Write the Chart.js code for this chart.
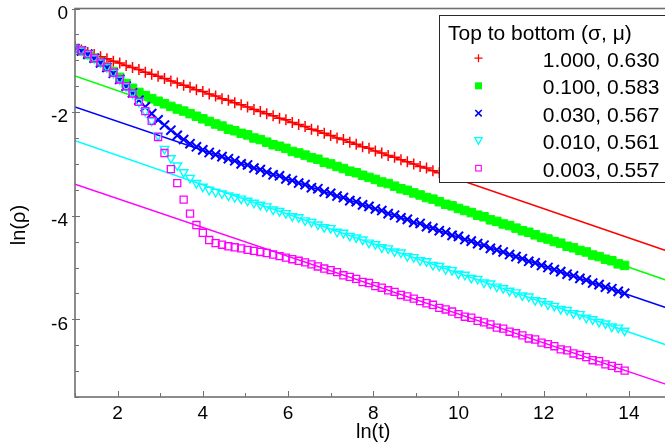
<!DOCTYPE html>
<html>
<head>
<meta charset="utf-8">
<title>ln(ρ) versus ln(t)</title>
<script src="https://cdn.jsdelivr.net/npm/chart.js@4.4.1/dist/chart.umd.min.js"></script>
<style>
  html, body { margin: 0; padding: 0; background: #fff; overflow: hidden; }
  canvas { display: block; }
</style>
</head>
<body>
<canvas id="decay" width="680" height="445"></canvas>
<script>
// Sampling times, as ln(t)
const lnT = [
  1.00, 1.15, 1.30, 1.45, 1.60, 1.75, 1.90, 2.05, 2.20, 2.35,
  2.50, 2.65, 2.80, 2.95, 3.10, 3.25, 3.40, 3.55, 3.70, 3.85,
  4.00, 4.15, 4.30, 4.45, 4.60, 4.75, 4.90, 5.05, 5.20, 5.35,
  5.50, 5.65, 5.80, 5.95, 6.10, 6.25, 6.40, 6.55, 6.70, 6.85,
  7.00, 7.15, 7.30, 7.45, 7.60, 7.75, 7.90, 8.05, 8.20, 8.35,
  8.50, 8.65, 8.80, 8.95, 9.10, 9.25, 9.40, 9.55, 9.70, 9.85,
  10.00, 10.15, 10.30, 10.45, 10.60, 10.75, 10.90, 11.05, 11.20, 11.35,
  11.50, 11.65, 11.80, 11.95, 12.10, 12.25, 12.40, 12.55, 12.70, 12.85,
  13.00, 13.15, 13.30, 13.45, 13.60, 13.75, 13.90
];

// ln(rho) for each noise level; the sigma = 1.000 run is shorter
const lnRhoS1000 = [
  -0.74, -0.80, -0.85, -0.89, -0.93, -0.97, -1.02, -1.05, -1.10, -1.14,
  -1.18, -1.23, -1.27, -1.31, -1.35, -1.40, -1.44, -1.48, -1.52, -1.57,
  -1.60, -1.65, -1.69, -1.74, -1.77, -1.82, -1.86, -1.90, -1.95, -1.99,
  -2.03, -2.07, -2.12, -2.15, -2.20, -2.24, -2.28, -2.33, -2.36, -2.41,
  -2.45, -2.50, -2.53, -2.58, -2.62, -2.67, -2.70, -2.75, -2.79, -2.84,
  -2.87, -2.92, -2.96, -3.00, -3.05, -3.08, -3.13, -3.17, -3.22, -3.25
];
const lnRhoS0100 = [
  -0.77, -0.82, -0.89, -0.96, -1.04, -1.13, -1.22, -1.33, -1.45, -1.54,
  -1.62, -1.68, -1.74, -1.79, -1.84, -1.89, -1.94, -1.98, -2.03, -2.08,
  -2.13, -2.18, -2.23, -2.27, -2.33, -2.36, -2.41, -2.44, -2.50, -2.53,
  -2.58, -2.63, -2.66, -2.70, -2.76, -2.79, -2.83, -2.88, -2.91, -2.97,
  -3.00, -3.05, -3.09, -3.14, -3.17, -3.22, -3.26, -3.30, -3.35, -3.38,
  -3.43, -3.48, -3.51, -3.56, -3.60, -3.65, -3.68, -3.73, -3.78, -3.81,
  -3.86, -3.90, -3.94, -3.99, -4.02, -4.08, -4.11, -4.16, -4.19, -4.24,
  -4.29, -4.32, -4.37, -4.42, -4.45, -4.50, -4.53, -4.59, -4.62, -4.67,
  -4.70, -4.76, -4.79, -4.84, -4.87, -4.93, -4.96
];
const lnRhoS0030 = [
  -0.78, -0.82, -0.88, -0.96, -1.05, -1.14, -1.25, -1.37, -1.50, -1.63,
  -1.77, -1.90, -2.03, -2.15, -2.25, -2.35, -2.45, -2.53, -2.61, -2.67,
  -2.73, -2.78, -2.82, -2.86, -2.90, -2.94, -3.00, -3.02, -3.08, -3.11,
  -3.16, -3.21, -3.23, -3.29, -3.32, -3.37, -3.40, -3.46, -3.48, -3.54,
  -3.57, -3.62, -3.65, -3.71, -3.73, -3.79, -3.82, -3.87, -3.90, -3.96,
  -3.99, -4.04, -4.07, -4.13, -4.15, -4.21, -4.24, -4.29, -4.32, -4.38,
  -4.40, -4.46, -4.49, -4.54, -4.57, -4.63, -4.66, -4.70, -4.75, -4.79,
  -4.83, -4.88, -4.91, -4.96, -5.00, -5.04, -5.08, -5.13, -5.16, -5.21,
  -5.24, -5.30, -5.33, -5.38, -5.41, -5.46, -5.50
];
const lnRhoS0010 = [
  -0.77, -0.81, -0.88, -0.96, -1.04, -1.13, -1.24, -1.37, -1.50, -1.64,
  -1.80, -1.98, -2.17, -2.45, -2.71, -2.89, -3.03, -3.16, -3.27, -3.37,
  -3.44, -3.50, -3.54, -3.57, -3.61, -3.64, -3.67, -3.71, -3.75, -3.79,
  -3.82, -3.88, -3.91, -3.95, -4.01, -4.03, -4.09, -4.12, -4.17, -4.22,
  -4.24, -4.31, -4.33, -4.39, -4.42, -4.46, -4.52, -4.55, -4.61, -4.63,
  -4.69, -4.71, -4.78, -4.80, -4.86, -4.88, -4.95, -4.97, -5.03, -5.05,
  -5.12, -5.14, -5.20, -5.22, -5.29, -5.31, -5.37, -5.40, -5.45, -5.48,
  -5.54, -5.56, -5.63, -5.65, -5.71, -5.74, -5.80, -5.82, -5.88, -5.90,
  -5.97, -6.00, -6.05, -6.08, -6.14, -6.16, -6.22
];
const lnRhoS0003 = [
  -0.77, -0.81, -0.88, -0.96, -1.04, -1.13, -1.24, -1.37, -1.50, -1.64,
  -1.80, -1.98, -2.17, -2.48, -2.79, -3.10, -3.37, -3.69, -3.96, -4.18,
  -4.33, -4.47, -4.53, -4.56, -4.59, -4.61, -4.63, -4.66, -4.68, -4.70,
  -4.72, -4.75, -4.78, -4.81, -4.84, -4.87, -4.90, -4.94, -4.98, -5.02,
  -5.05, -5.09, -5.15, -5.18, -5.22, -5.28, -5.30, -5.36, -5.39, -5.44,
  -5.47, -5.53, -5.56, -5.60, -5.65, -5.69, -5.72, -5.78, -5.81, -5.85,
  -5.90, -5.95, -5.97, -6.03, -6.06, -6.10, -6.16, -6.18, -6.24, -6.27,
  -6.31, -6.37, -6.39, -6.45, -6.48, -6.52, -6.58, -6.60, -6.66, -6.69,
  -6.73, -6.79, -6.81, -6.87, -6.90, -6.94, -6.99
];

// Power-law fits, given at both ends of the ln(t) axis
const fitT = [1, 15];
const fitS1000 = [-0.76, -4.71];
const fitS0100 = [-1.30, -5.28];
const fitS0030 = [-1.90, -5.81];
const fitS0010 = [-2.55, -6.53];
const fitS0003 = [-3.39, -7.29];

// Legend entries (sigma, mu), top to bottom
const sigmaLabels = ['1.000', '0.100', '0.030', '0.010', '0.003'];
const muLabels = ['0.630', '0.583', '0.567', '0.561', '0.557'];

// Labelled ticks
const xTickLabels = ['2', '4', '6', '8', '10', '12', '14'];
const yTickLabels = ['0', '-2', '-4', '-6'];

const RED = '#ff0000', GREEN = '#00ff00', BLUE = '#0000ff', CYAN = '#00ffff', MAGENTA = '#ff00ff';
const AXIS_GRAY = '#707070';
const FONT = '"Liberation Sans", Arial, Helvetica, sans-serif';

const pts = ys => ys.map((y, i) => ({ x: lnT[i], y }));
const fitPts = ys => ys.map((y, i) => ({ x: fitT[i], y }));

function fitSet(ys, color) {
  return {
    type: 'line', data: fitPts(ys), borderColor: color, borderWidth: 1.5,
    pointRadius: 0, showLine: true, fill: false, order: 10
  };
}

// Marker shapes used in the legend box
function drawMarker(ctx, kind, color, x, y) {
  ctx.save();
  ctx.strokeStyle = color;
  ctx.fillStyle = color;
  ctx.beginPath();
  if (kind === 'plus') {
    ctx.lineWidth = 1.2;
    ctx.moveTo(x - 4, y); ctx.lineTo(x + 4, y);
    ctx.moveTo(x, y - 4); ctx.lineTo(x, y + 4);
    ctx.stroke();
  } else if (kind === 'block') {
    ctx.fillRect(x - 3.5, y - 3.5, 7, 7);
  } else if (kind === 'times') {
    ctx.lineWidth = 1.6;
    ctx.moveTo(x - 3.2, y - 3.2); ctx.lineTo(x + 3.2, y + 3.2);
    ctx.moveTo(x + 3.2, y - 3.2); ctx.lineTo(x - 3.2, y + 3.2);
    ctx.stroke();
  } else if (kind === 'down') {
    ctx.lineWidth = 1.3;
    ctx.moveTo(x - 3.6, y - 3.2); ctx.lineTo(x + 3.6, y - 3.2); ctx.lineTo(x, y + 3.6);
    ctx.closePath();
    ctx.stroke();
  } else if (kind === 'box') {
    ctx.lineWidth = 1.1;
    ctx.strokeRect(x - 2.8, y - 2.8, 5.6, 5.6);
  }
  ctx.restore();
}

const legendKinds = ['plus', 'block', 'times', 'down', 'box'];
const legendColors = [RED, GREEN, BLUE, CYAN, MAGENTA];

const decorPlugin = {
  id: 'decor',
  afterDatasetsDraw(chart) {
    const { ctx, chartArea: a, scales: { x, y } } = chart;
    ctx.save();
    // frame
    ctx.strokeStyle = AXIS_GRAY;
    ctx.lineWidth = 1.6;
    ctx.strokeRect(a.left, a.top, a.right - a.left, a.bottom - a.top);
    // tick marks, pointing into the plot
    ctx.lineWidth = 1;
    ctx.beginPath();
    y.ticks.forEach(t => {
      const py = Math.round(y.getPixelForValue(t.value)) + 0.5;
      const major = yTickLabels.includes(String(t.value));
      ctx.moveTo(a.left - (major ? 3 : 0), py);
      ctx.lineTo(a.left + (major ? 5 : 4), py);
    });
    x.ticks.forEach(t => {
      const px = Math.round(x.getPixelForValue(t.value)) + 0.5;
      const major = xTickLabels.includes(String(t.value));
      ctx.moveTo(px, a.bottom);
      ctx.lineTo(px, a.bottom - (major ? 6 : 4));
    });
    ctx.stroke();
    ctx.restore();
  },
  afterDraw(chart) {
    const { ctx, chartArea: a } = chart;
    ctx.save();
    // axis titles
    ctx.fillStyle = '#000';
    ctx.font = '20px ' + FONT;
    ctx.textAlign = 'center';
    ctx.textBaseline = 'middle';
    ctx.fillText('ln(t)', (a.left + a.right) / 2, 432);
    ctx.save();
    ctx.translate(19, 225);
    ctx.rotate(-Math.PI / 2);
    ctx.fillText('ln(ρ)', 0, 0);
    ctx.restore();

    // legend box
    const bx = 439.5, by = 15.5, bw = 240, bh = 167;
    ctx.fillStyle = '#fff';
    ctx.fillRect(bx, by, bw, bh);
    ctx.strokeStyle = '#2a2a2a';
    ctx.lineWidth = 1;
    ctx.strokeRect(bx, by, bw, bh);

    ctx.fillStyle = '#000';
    ctx.font = '21px ' + FONT;
    ctx.textBaseline = 'alphabetic';
    ctx.textAlign = 'left';
    ctx.fillText('Top to bottom (σ, μ)', 448, 39.5);
    ctx.textAlign = 'right';
    const rowBase = [66.7, 94.3, 121.7, 149.3, 176.7];
    sigmaLabels.forEach((s, i) => {
      ctx.fillStyle = '#000';
      ctx.fillText(s + ', ' + muLabels[i], 659.5, rowBase[i]);
      drawMarker(ctx, legendKinds[i], legendColors[i], 478.5, rowBase[i] - 8.5);
    });
    ctx.restore();
  }
};

Chart.defaults.font.family = FONT;
Chart.defaults.color = '#000';

new Chart(document.getElementById('decay'), {
  type: 'scatter',
  data: {
    datasets: [
      { data: pts(lnRhoS1000), pointStyle: 'cross', pointRadius: 5.5, borderColor: RED,
        backgroundColor: RED, borderWidth: 1.5, order: 5 },
      { data: pts(lnRhoS0100), pointStyle: 'rect', pointRadius: 6, borderColor: GREEN,
        backgroundColor: GREEN, borderWidth: 1, order: 4 },
      { data: pts(lnRhoS0030), pointStyle: 'crossRot', pointRadius: 6.5, borderColor: BLUE,
        backgroundColor: BLUE, borderWidth: 2, order: 3 },
      { data: pts(lnRhoS0010), pointStyle: 'triangle', rotation: 180, pointRadius: 5,
        borderColor: CYAN, backgroundColor: 'rgba(0,0,0,0)', borderWidth: 1.4, order: 2 },
      { data: pts(lnRhoS0003), pointStyle: 'rect', pointRadius: 5, borderColor: MAGENTA,
        backgroundColor: 'rgba(0,0,0,0)', borderWidth: 1.3, order: 1 },
      fitSet(fitS1000, RED),
      fitSet(fitS0100, GREEN),
      fitSet(fitS0030, BLUE),
      fitSet(fitS0010, CYAN),
      fitSet(fitS0003, MAGENTA)
    ]
  },
  options: {
    responsive: false,
    animation: false,
    events: [],
    layout: { padding: { left: 0, top: 8, right: 7, bottom: 0 } },
    plugins: { legend: { display: false }, tooltip: { enabled: false } },
    scales: {
      x: {
        type: 'linear', position: 'bottom', min: 1, max: 15,
        grid: { display: false, drawTicks: false },
        border: { display: false },
        ticks: {
          stepSize: 1, autoSkip: false, maxRotation: 0, padding: 5,
          font: { size: 19 },
          callback: v => xTickLabels.includes(String(v)) ? String(v) : ''
        },
        afterFit: s => { s.height = 48; s.paddingLeft = 0; s.paddingRight = 0; }
      },
      y: {
        type: 'linear', min: -7.5, max: 0,
        grid: { display: false, drawTicks: false },
        border: { display: false },
        ticks: {
          stepSize: 0.5, autoSkip: false, maxTicksLimit: 100, padding: 7, labelOffset: 5,
          font: { size: 19 },
          callback: v => yTickLabels.includes(String(v)) ? String(v) : ''
        },
        afterFit: s => { s.width = 75; s.paddingTop = 0; s.paddingBottom = 0; }
      }
    }
  },
  plugins: [decorPlugin]
});
</script>
</body>
</html>
